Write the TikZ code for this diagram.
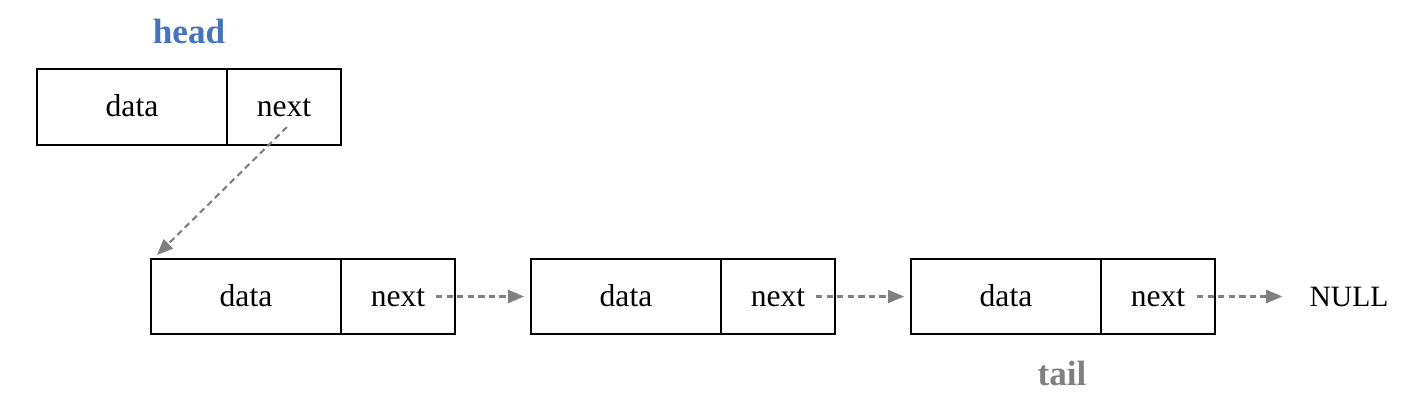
\documentclass[tikz,border=0pt]{standalone}
\usepackage{fontspec}
\setmainfont{Liberation Serif}
\usepackage{tikz}
\usetikzlibrary{arrows.meta, positioning}
\definecolor{myblue}{RGB}{68,114,196}
\definecolor{mygray}{RGB}{128,128,128}
\tikzset{
  celltext/.style={font=\fontsize{9}{11}\selectfont, text height=1.45ex, text depth=0.25ex},
  datacell/.style={rectangle, celltext, draw=black, line width=0.3pt, outer sep=0pt,
    minimum width=1.9cm, minimum height=0.76cm},
  nextcell/.style={datacell, minimum width=1.14cm},
  ptr/.style={-{Triangle[length=1.6mm, width=1.3mm]}, color=mygray,
    line width=0.6pt, dash pattern=on 1.8pt off 1.2pt},
  tag/.style={font=\fontsize{10}{12}\selectfont\bfseries}
}
\begin{document}
\begin{tikzpicture}
  \useasboundingbox (0,0) rectangle (14.06,-4.15);
  % head node
  \node[datacell] (hd) at (1.32,-1.07) {data};
  \node[nextcell, right=0pt of hd] (hn) {next};
  \node[tag, text=myblue] (head) at (1.89,-0.31) {head};
  % list nodes
  \foreach \i/\x in {1/2.46, 2/6.26, 3/10.06} {
    \node[datacell, minimum height=0.75cm] (d\i) at (\x,-2.965) {data};
    \node[nextcell, minimum height=0.75cm, right=0pt of d\i] (n\i) {next};
  }
  \node[celltext, font=\fontsize{8.4}{10}\selectfont] (null) at (13.49,-2.965) {NULL};
  \node[tag, text=mygray] (tail) at (10.62,-3.73) {tail};
  % pointers
  \draw[ptr] ([shift={(0.03,-0.2)}]hn.center) -- ([shift={(0.06,0.04)}]d1.north west);
  \draw[ptr] ([xshift=0.38cm]n1.center) -- ([xshift=-0.07cm]d2.west);
  \draw[ptr] ([xshift=0.38cm]n2.center) -- ([xshift=-0.07cm]d3.west);
  \draw[ptr] ([xshift=0.39cm]n3.center) -- ([xshift=-0.15cm]null.west);
\end{tikzpicture}
\end{document}
